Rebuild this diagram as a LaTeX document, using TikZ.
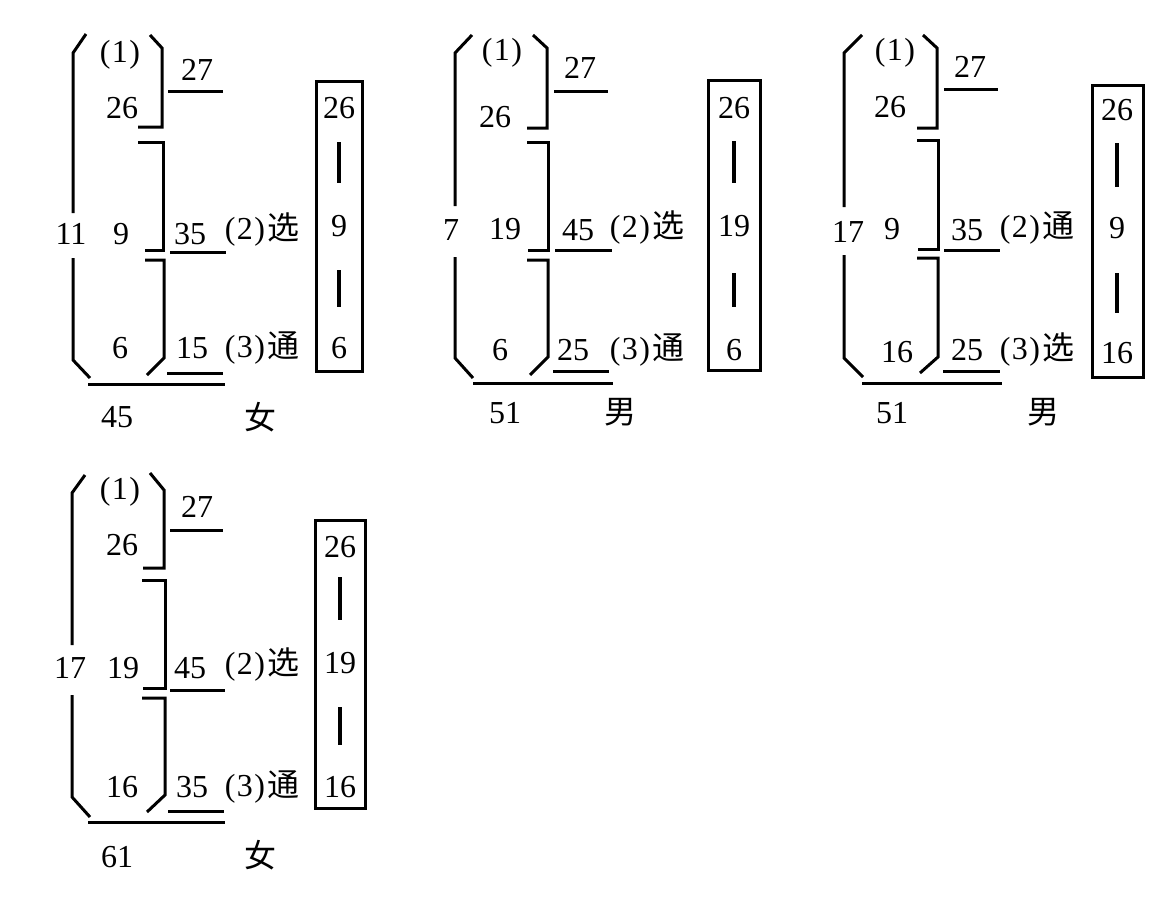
\documentclass[tikz,border=0pt]{standalone}
\usepackage{fontspec}
\setmainfont{Liberation Serif}
\newfontfamily\cjk{Noto Sans CJK SC}
\newcommand\pa[1]{(\kern1.5pt #1\kern1.5pt)}
\newcommand\pc[2]{(\kern1.5pt #1\kern1.5pt)\kern2pt{\cjk #2}}
\tikzset{
  ln/.style={line width=3pt},
  barln/.style={line width=3.5pt},
  t/.style={inner sep=0pt, font=\fontsize{32}{32}\selectfont},
}
\begin{document}
\begin{tikzpicture}[x=1pt,y=-1pt]
\useasboundingbox (0,0) rectangle (1175,900);
\fill[white] (0,0) rectangle (1175,900);
% ---------- Panel 1 ----------
\draw[ln] (86,34) -- (73,53) -- (73,213);
\draw[ln] (73,258) -- (73,360) -- (90,378);
\draw[ln] (150,35) -- (162,48) -- (162,127) -- (138,127);
\draw[ln] (138,142) -- (163,142) -- (163,250) -- (145,250);
\draw[ln] (145,260) -- (164,260) -- (164,358) -- (147,375);
\draw[ln] (168,91) -- (223,91);
\draw[ln] (170,252) -- (226,252);
\draw[ln] (167,373) -- (223,373);
\draw[ln] (88,384) -- (225,384);
\node[t] (a1) at (120,55) {\pa{1}};
\node[t] (a26) at (122,108) {26};
\node[t] (a27) at (197,70) {27};
\node[t] (aL) at (71,234) {11};
\node[t] (aM) at (121,234) {9};
\node[t] (aS2) at (190,234) {35};
\node[t] (aC2) at (262,230) {\pc{2}{选}};
\node[t] (aB) at (120,348) {6};
\node[t] (aS3) at (192,348) {15};
\node[t] (aC3) at (262,348) {\pc{3}{通}};
\node[t] (aT) at (117,417) {45};
\node[t] (aG) at (260,417) {\cjk 女};
\draw[ln] (316,81) rectangle (362,371);
\node[t] (aX1) at (339,108) {26};
\node[t] (aX2) at (339,226) {9};
\node[t] (aX3) at (339,348) {6};
\draw[barln] (339,142) -- (339,183);
\draw[barln] (339,270) -- (339,307);
% ---------- Panel 2 ----------
\draw[ln] (472,35) -- (455,53) -- (455,206);
\draw[ln] (455,257) -- (455,358) -- (473,378);
\draw[ln] (533,35) -- (547,48) -- (547,128) -- (527,128);
\draw[ln] (527,142) -- (548,142) -- (548,250) -- (528,250);
\draw[ln] (527,260) -- (548,260) -- (548,357) -- (530,375);
\draw[ln] (554,91) -- (608,91);
\draw[ln] (555,250) -- (612,250);
\draw[ln] (553,371) -- (609,371);
\draw[ln] (473,383) -- (613,383);
\node[t] (b1) at (502,53) {\pa{1}};
\node[t] (b26) at (495,117) {26};
\node[t] (b27) at (580,68) {27};
\node[t] (bL) at (451,230) {7};
\node[t] (bM) at (505,229) {19};
\node[t] (bS2) at (578,230) {45};
\node[t] (bC2) at (647,228) {\pc{2}{选}};
\node[t] (bB) at (500,350) {6};
\node[t] (bS3) at (573,350) {25};
\node[t] (bC3) at (647,350) {\pc{3}{通}};
\node[t] (bT) at (505,413) {51};
\node[t] (bG) at (620,412) {\cjk 男};
\draw[ln] (708,80) rectangle (760,370);
\node[t] (bX1) at (734,108) {26};
\node[t] (bX2) at (734,226) {19};
\node[t] (bX3) at (734,350) {6};
\draw[barln] (734,141) -- (734,183);
\draw[barln] (734,273) -- (734,307);
% ---------- Panel 3 ----------
\draw[ln] (862,35) -- (844,53) -- (844,207);
\draw[ln] (844,255) -- (844,358) -- (863,377);
\draw[ln] (923,35) -- (937,48) -- (937,128) -- (917,128);
\draw[ln] (917,140) -- (938,140) -- (938,249) -- (918,249);
\draw[ln] (917,258) -- (938,258) -- (938,357) -- (920,373);
\draw[ln] (944,89) -- (998,89);
\draw[ln] (944,250) -- (1000,250);
\draw[ln] (943,371) -- (1000,371);
\draw[ln] (862,383) -- (1002,383);
\node[t] (c1) at (895,53) {\pa{1}};
\node[t] (c26) at (890,107) {26};
\node[t] (c27) at (970,67) {27};
\node[t] (cL) at (848,232) {17};
\node[t] (cM) at (892,229) {9};
\node[t] (cS2) at (967,230) {35};
\node[t] (cC2) at (1037,228) {\pc{2}{通}};
\node[t] (cB) at (897,352) {16};
\node[t] (cS3) at (967,350) {25};
\node[t] (cC3) at (1037,350) {\pc{3}{选}};
\node[t] (cT) at (892,413) {51};
\node[t] (cG) at (1043,412) {\cjk 男};
\draw[ln] (1092,85) rectangle (1143,377);
\node[t] (cX1) at (1117,110) {26};
\node[t] (cX2) at (1117,228) {9};
\node[t] (cX3) at (1117,353) {16};
\draw[barln] (1117,143) -- (1117,187);
\draw[barln] (1117,273) -- (1117,313);
% ---------- Panel 4 ----------
\draw[ln] (85,475) -- (72,493) -- (72,645);
\draw[ln] (72,695) -- (72,797) -- (90,817);
\draw[ln] (150,473) -- (164,490) -- (164,568) -- (143,568);
\draw[ln] (142,580) -- (165,580) -- (165,688) -- (143,688);
\draw[ln] (142,698) -- (165,698) -- (165,795) -- (147,812);
\draw[ln] (170,530) -- (223,530);
\draw[ln] (170,690) -- (225,690);
\draw[ln] (168,811) -- (224,811);
\draw[ln] (88,822) -- (225,822);
\node[t] (d1) at (120,492) {\pa{1}};
\node[t] (d26) at (122,545) {26};
\node[t] (d27) at (197,507) {27};
\node[t] (dL) at (70,668) {17};
\node[t] (dM) at (123,668) {19};
\node[t] (dS2) at (190,668) {45};
\node[t] (dC2) at (262,665) {\pc{2}{选}};
\node[t] (dB) at (122,787) {16};
\node[t] (dS3) at (192,787) {35};
\node[t] (dC3) at (262,787) {\pc{3}{通}};
\node[t] (dT) at (117,857) {61};
\node[t] (dG) at (260,855) {\cjk 女};
\draw[ln] (315,520) rectangle (365,808);
\node[t] (dX1) at (340,547) {26};
\node[t] (dX2) at (340,663) {19};
\node[t] (dX3) at (340,787) {16};
\draw[barln] (340,577) -- (340,620);
\draw[barln] (340,707) -- (340,745);
\end{tikzpicture}
\end{document}
